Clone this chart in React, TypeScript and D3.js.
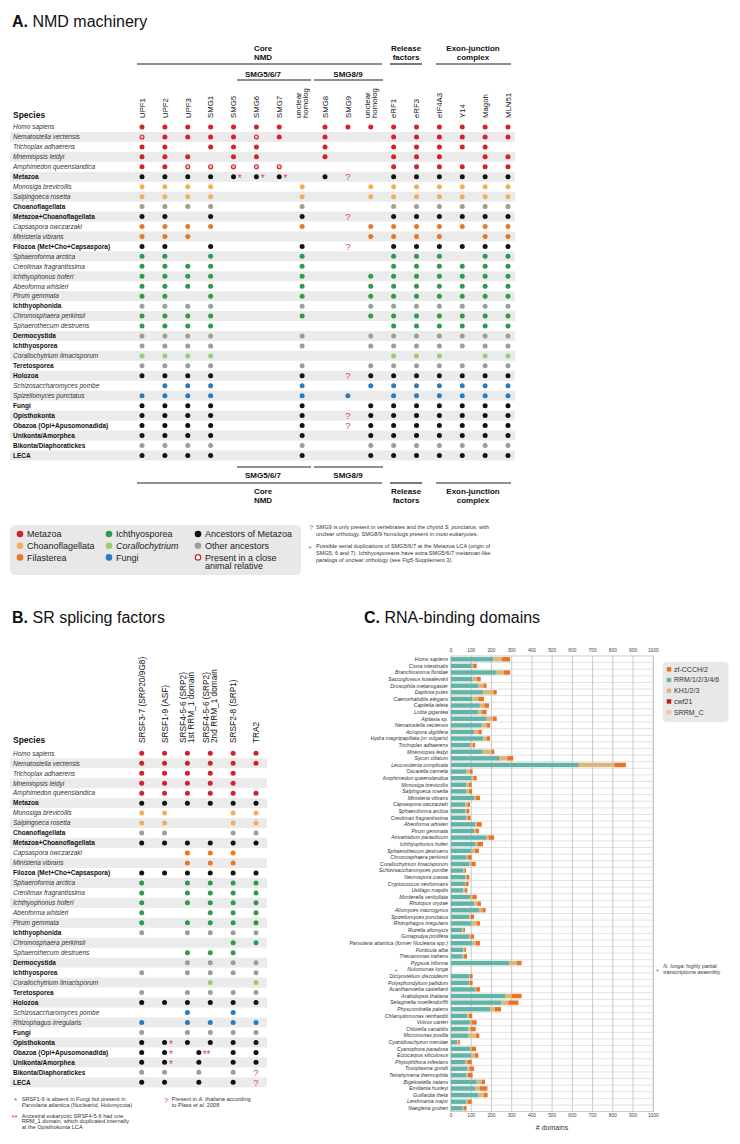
import React from "react";
import * as d3 from "d3";

const FONT = "'Liberation Sans', Arial, Helvetica, sans-serif";
const PAL: Record<string, string> = {
  r: "#d2232a", lo: "#f5ad5b", o: "#ee7623", g: "#2f9a4a", lg: "#9acd6c", b: "#2b7cbf", k: "#111111", gr: "#9d9d9d",
};
const MAG = "#d8388c";
const SHADE = "#ebebeb";

// ---------------- Panel A data ----------------
const A_COLUMNS = ["UPF1", "UPF2", "UPF3", "SMG1", "SMG5", "SMG6", "SMG7", "unclear|homolog", "SMG8", "SMG9", "unclear|homolog", "eRF1", "eRF3", "eIF4A3", "Y14", "Magoh", "MLN51"];
const A_SPECIES = [
  "Homo sapiens", "Nematostella vectensis", "Trichoplax adhaerens", "Mnemiopsis leidyi", "Amphimedon queenslandica",
  "Metazoa", "Monosiga brevicollis", "Salpingoeca rosetta", "Choanoflagellata", "Metazoa+Choanoflagellata",
  "Capsaspora owczarzaki", "Ministeria vibrans", "Filozoa (Met+Cho+Capsaspora)", "Sphaeroforma arctica", "Creolimax fragrantissima",
  "Ichthyophonus hoferi", "Abeoforma whisleri", "Pirum gemmata", "Ichthyophonida", "Chromosphaera perkinsii",
  "Sphaerothecum destruens", "Dermocystida", "Ichthyosporea", "Corallochytrium limacisporum", "Teretosporea",
  "Holozoa", "Schizosaccharomyces pombe", "Spizellomyces punctatus", "Fungi", "Opisthokonta",
  "Obazoa (Opi+Apusomonadida)", "Unikonta/Amorphea", "Bikonta/Diaphoratickes", "LECA",
];
const A_BOLD = [0,0,0,0,0,1,0,0,1,1,0,0,1,0,0,0,0,0,1,0,0,1,1,0,1,1,0,0,1,1,1,1,1,1];
const A_COLOR = ["r","r","r","r","r","k","lo","lo","gr","k","o","o","k","g","g","g","g","g","gr","g","g","gr","gr","lg","gr","k","b","b","k","k","k","k","gr","k"];
const A_CELLS = [
  "11111110111111111",
  "o1111o10100111111",
  "11011100100111110",
  "11101100100111011",
  "11ooooo0000111111",
  "1111***01?0111111",
  "11110001001111111",
  "11110001001111111",
  "11110001000111111",
  "110100010?0111111",
  "11110001001111111",
  "11100000001111011",
  "110100010?0111111",
  "11010001000111011",
  "11110001000111111",
  "11110001001111111",
  "11110001001111111",
  "11010001001111111",
  "11110001001111111",
  "11110001001111111",
  "11110000000111111",
  "11110001001111111",
  "11110001001111111",
  "11110000000111011",
  "11110001001111111",
  "111100010?1111111",
  "01110001001111111",
  "11110001010111111",
  "11110001001111111",
  "111100010?1111111",
  "111100010?1111111",
  "11110001001111111",
  "11110001001111111",
  "11110001001111111",
];

// ---------------- Panel B data ----------------
const B_COLUMNS = ["SRSF3-7 (SRP20/9G8)", "SRSF1-9 (ASF)", "SRSF4-5-6 (SRP2)|1st RRM_1 domain", "SRSF4-5-6 (SRP2)|2nd RRM_1 domain", "SRSF2-8 (SRP1)", "TRA2"];
const B_SPECIES = [
  "Homo sapiens", "Nematostella vectensis", "Trichoplax adhaerens", "Mnemiopsis leidyi", "Amphimedon queenslandica",
  "Metazoa", "Monosiga brevicollis", "Salpingoeca rosetta", "Choanoflagellata", "Metazoa+Choanoflagellata",
  "Capsaspora owczarzaki", "Ministeria vibrans", "Filozoa (Met+Cho+Capsaspora)", "Sphaeroforma arctica", "Creolimax fragrantissima",
  "Ichthyophonus hoferi", "Abeoforma whisleri", "Pirum gemmata", "Ichthyophonida", "Chromosphaera perkinsii",
  "Sphaerothecum destruens", "Dermocystida", "Ichthyosporea", "Corallochytrium limacisporum", "Teretosporea",
  "Holozoa", "Schizosaccharomyces pombe", "Rhizophagus irregularis", "Fungi", "Opisthokonta",
  "Obazoa (Opi+Apusomonadida)", "Unikonta/Amorphea", "Bikonta/Diaphoratickes", "LECA",
];
const B_BOLD = A_BOLD;
const B_COLOR = ["r","r","r","r","r","k","lo","lo","gr","k","o","o","k","g","g","g","g","g","gr","g","g","gr","gr","lg","gr","k","b","b","gr","k","k","k","gr","k"];
const B_CELLS = [
  "111111", "111111", "111110", "111110", "111111", "111111",
  "110011", "110011", "110011", "111111", "001110", "001110",
  "111111", "101111", "101111", "101111", "100111", "101111",
  "101111", "000011", "001110", "001111", "101111", "000101",
  "101111", "111111", "001010", "101111", "101111", "1*1111",
  "1*W011", "1*M011", "11M01?", "11M01?",
];

// ---------------- Panel C data ----------------
const C_SPECIES = [
  "Homo sapiens", "Ciona intestinalis", "Branchiostoma floridae", "Saccoglossus kowalevskii", "Drosophila melanogaster",
  "Daphnia pulex", "Caenorhabditis elegans", "Capitella teleta", "Lottia gigantea", "Aiptasia sp.",
  "Nematostella vectensis", "Acropora digitifera", "Hydra magnipapillata (or vulgaris)", "Trichoplax adhaerens", "Mnemiopsis leidyi",
  "Sycon ciliatum", "Leucosolenia complicata", "Oscarella carmela", "Amphimedon queenslandica", "Monosiga brevicollis",
  "Salpingoeca rosetta", "Ministeria vibrans", "Capsaspora owczarzaki", "Sphaeroforma arctica", "Creolimax fragrantissima",
  "Abeoforma whisleri", "Pirum gemmata", "Amoebidium parasiticum", "Ichthyophonus hoferi", "Sphaerothecum destruens",
  "Chromosphaera perkinsii", "Corallochytrium limacisporum", "Schizosaccharomyces pombe", "Neurospora crassa", "Cryptococcus neoformans",
  "Ustilago maydis", "Mortierella verticillata", "Rhizopus oryzae", "Allomyces macrogynus", "Spizellomyces punctatus",
  "Rhizophagus irregularis", "Rozella allomycis", "Gonapodya prolifera", "Parvularia atlantica (former Nuclearia spp.)", "Fonticula alba",
  "Thecamonas trahens", "Pygsuia biforma", "Nutomonas longa", "Dictyostelium discoideum", "Polysphondylium pallidum",
  "Acanthamoeba castellanii", "Arabidopsis thaliana", "Selaginella moellendorffii", "Physcomitrella patens", "Chlamydomonas reinhardtii",
  "Volvox carteri", "Chlorella variabilis", "Micromonas pusilla", "Cyanidioschyzon merolae", "Cyanophora paradoxa",
  "Ectocarpus siliculosus", "Phytophthora infestans", "Toxoplasma gondii", "Tetrahymena thermophila", "Bigelowiella natans",
  "Emiliania huxleyi", "Guillardia theta", "Leishmania major", "Naegleria gruberi",
];
const C_RRM = [209,102,226,107,135,160,107,143,135,176,152,114,160,94,157,232,626,77,102,77,77,114,72,72,77,119,115,173,122,102,77,91,61,72,69,61,94,114,138,91,102,56,89,107,61,58,288,0,91,91,119,267,250,193,81,94,86,86,31,94,99,72,81,77,127,119,135,77,58];
const C_CWF = [0,0,0,0,0,0,0,0,0,0,0,0,0,0,0,4,4,0,0,0,0,0,0,0,0,0,0,0,0,0,0,0,0,0,0,0,0,0,0,0,0,0,0,0,0,0,0,0,0,0,0,0,0,0,0,0,0,0,0,0,0,0,0,0,0,0,0,0,0];
const C_KH = [41,8,36,20,25,49,28,22,17,30,24,21,16,13,44,42,177,17,8,12,12,10,9,5,5,8,7,12,8,17,5,11,5,5,5,8,11,16,17,6,25,5,8,15,5,6,37,0,3,3,5,33,33,24,8,8,13,36,5,8,20,9,10,5,25,24,28,5,6];
const C_ZF = [42,17,30,20,16,17,28,23,24,20,17,17,17,12,13,30,58,13,17,13,15,19,13,14,15,25,16,28,28,19,20,20,8,14,13,12,22,18,16,17,16,8,17,21,8,15,24,0,13,13,19,49,50,30,16,25,23,18,8,22,16,21,23,25,16,37,18,20,13];
const C_SRRM = C_SPECIES.map(() => 0);
const C_KEYS = ["RRM", "cwf21", "KH", "zf", "SRRM"];
const C_COLORS: Record<string, string> = { RRM: "#62b5a6", cwf21: "#c4161c", KH: "#dab87b", zf: "#ea7326", SRRM: "#f6bfae" };
const C_LEGEND = [["zf-CCCH/2", "zf"], ["RRM/1/2/3/4/6", "RRM"], ["KH1/2/3", "KH"], ["cwf21", "cwf21"], ["SRRM_C", "SRRM"]];
const C_TICKS = [0, 100, 200, 300, 400, 500, 600, 700, 800, 900, 1000];

function Title({ x, y, letter, text }: { x: number; y: number; letter: string; text: string }) {
  return (
    <text x={x} y={y} fontSize={16} fontFamily={FONT} fill="#111">
      <tspan fontWeight="bold">{letter}</tspan>
      <tspan> {text}</tspan>
    </text>
  );
}

function Cell({ code, x, y, nextX, color }: { code: string; x: number; y: number; nextX: number; color: string }) {
  if (code === "0") return null;
  const r = 2.5;
  if (code === "1") return <circle cx={x} cy={y} r={r} fill={color} />;
  if (code === "o") return <circle cx={x} cy={y} r={2.0} fill="#f6c0b6" stroke={PAL.r} strokeWidth={1.1} />;
  if (code === "*")
    return (
      <g>
        <circle cx={x} cy={y} r={r} fill={color} />
        <text x={x + 6.3} y={y + 5.6} fontSize={10} fill={MAG} textAnchor="middle" fontFamily={FONT}>*</text>
      </g>
    );
  if (code === "?")
    return <text x={x} y={y + 3.4} fontSize={9.5} fill={MAG} textAnchor="middle" fontFamily={FONT}>?</text>;
  const mx = (x + nextX) / 2;
  if (code === "M") return <circle cx={mx} cy={y} r={r} fill={color} />;
  if (code === "W")
    return (
      <g>
        <circle cx={mx} cy={y} r={r} fill={color} />
        <text x={mx + 3.8} y={y + 5.6} fontSize={10} fill={MAG} fontFamily={FONT}>**</text>
      </g>
    );
  return null;
}

function RotLabel({ x, y, label, size }: { x: number; y: number; label: string; size: number }) {
  const parts = label.split("|");
  if (parts.length === 1)
    return (
      <text transform={`translate(${x + size * 0.36},${y}) rotate(-90)`} fontSize={size} fontFamily={FONT} fill="#111">{label}</text>
    );
  return (
    <g>
      <text transform={`translate(${x - 4 + size * 0.36},${y}) rotate(-90)`} fontSize={size} fontFamily={FONT} fill="#111">{parts[0]}</text>
      <text transform={`translate(${x + 3.5 + size * 0.36},${y}) rotate(-90)`} fontSize={size} fontFamily={FONT} fill="#111">{parts[1]}</text>
    </g>
  );
}

function Table({ species, bold, colors, cells, columns, x, y, shadeW, labelY, labelSize }: any) {
  return (
    <g fontFamily={FONT}>
      {species.map((s: string, i: number) => (
        <g key={s + i}>
          {i % 2 === 1 && <rect x={10} y={y(i) - 4.98} width={shadeW} height={9.96} fill={SHADE} />}
        </g>
      ))}
      <text x={13} y={labelY} fontSize={8.5} fontWeight="bold" fill="#111">Species</text>
      {columns.map((c: string, j: number) => (
        <RotLabel key={j} x={x(j)} y={labelY} label={c} size={labelSize} />
      ))}
      {species.map((s: string, i: number) => (
        <g key={"r" + i}>
          <text x={13} y={y(i) + 2.3} fontSize={6.5} fontStyle={bold[i] ? "normal" : "italic"} fontWeight={bold[i] ? "bold" : "normal"} fill={bold[i] ? "#111" : "#333"}>
            {s}
          </text>
          {cells[i].split("").map((code: string, j: number) => (
            <Cell key={j} code={code} x={x(j)} y={y(i)} nextX={x(j + 1)} color={PAL[colors[i]]} />
          ))}
        </g>
      ))}
    </g>
  );
}

function GroupHeader({ lines, cx, y, x0, x1, lineY }: any) {
  return (
    <g fontFamily={FONT}>
      {lines.map((l: string, k: number) => (
        <text key={k} x={cx} y={y + k * 8.5} fontSize={8} fontWeight="bold" textAnchor="middle" fill="#111">{l}</text>
      ))}
      <line x1={x0} x2={x1} y1={lineY} y2={lineY} stroke="#222" strokeWidth={1.2} />
    </g>
  );
}

export default function App() {
  // Panel A scales
  const ax = d3.scaleLinear().domain([0, 16]).range([142, 508]);
  const ay = d3.scaleLinear().domain([0, 33]).range([127, 455.4]);
  // Panel B scales
  const bx = d3.scaleLinear().domain([0, 5]).range([141.7, 256]);
  const by = d3.scaleLinear().domain([0, 33]).range([753.3, 1082.3]);
  // Panel C scales
  const cx = d3.scaleLinear().domain([0, 1000]).range([451, 653.3]);
  const cy = d3.scaleLinear().domain([0, C_SPECIES.length - 1]).range([659.3, 1108.3]);
  const rowH = (1108.3 - 659.3) / (C_SPECIES.length - 1);
  const cTop = cy(0) - rowH / 2;
  const cBot = cy(C_SPECIES.length - 1) + rowH / 2;
  const cData = C_SPECIES.map((s, i) => ({ s, RRM: C_RRM[i], cwf21: C_CWF[i], KH: C_KH[i], zf: C_ZF[i], SRRM: C_SRRM[i] }));
  const stacked = d3.stack<any>().keys(C_KEYS)(cData);

  const aHeaders = [
    { lines: ["Core", "NMD"], cx: 263, x0: 137, x1: 382 },
    { lines: ["Release", "factors"], cx: 406, x0: 390, x1: 422 },
    { lines: ["Exon-junction", "complex"], cx: 473, x0: 436, x1: 511 },
  ];
  const aSub = [
    { t: "SMG5/6/7", cx: 263, x0: 237, x1: 311 },
    { t: "SMG8/9", cx: 348, x0: 314, x1: 383 },
  ];

  const legA = [
    [["Metazoa", "r"], ["Choanoflagellata", "lo"], ["Filasterea", "o"]],
    [["Ichthyosporea", "g"], ["Corallochytrium", "lg"], ["Fungi", "b"]],
    [["Ancestors of Metazoa", "k"], ["Other ancestors", "gr"], ["Present in a close", "ring"]],
  ];

  return (
    <svg width={740} height={1144} style={{ position: "absolute", left: 0, top: 0, background: "#fff" }} fontFamily={FONT}>
      <rect x={0} y={0} width={740} height={1144} fill="#fff" />
      {/* ---------- Panel A ---------- */}
      <Title x={12} y={26.5} letter="A." text="NMD machinery" />
      {aHeaders.map((h, i) => (
        <GroupHeader key={i} lines={h.lines} cx={h.cx} y={51} x0={h.x0} x1={h.x1} lineY={64} />
      ))}
      {aSub.map((h, i) => (
        <GroupHeader key={"s" + i} lines={[h.t]} cx={h.cx} y={76.5} x0={h.x0} x1={h.x1} lineY={80} />
      ))}
      <Table species={A_SPECIES} bold={A_BOLD} colors={A_COLOR} cells={A_CELLS} columns={A_COLUMNS} x={ax} y={ay} shadeW={505} labelY={118} labelSize={7.8} />
      {/* bottom headers */}
      {aSub.map((h, i) => (
        <g key={"bs" + i}>
          <line x1={h.x0} x2={h.x1} y1={467} y2={467} stroke="#222" strokeWidth={1.2} />
          <text x={h.cx} y={478} fontSize={8} fontWeight="bold" textAnchor="middle" fill="#111">{h.t}</text>
        </g>
      ))}
      {aHeaders.map((h, i) => (
        <g key={"bh" + i}>
          <line x1={h.x0} x2={h.x1} y1={483} y2={483} stroke="#222" strokeWidth={1.2} />
          {h.lines.map((l, k) => (
            <text key={k} x={h.cx} y={494 + k * 9} fontSize={8} fontWeight="bold" textAnchor="middle" fill="#111">{l}</text>
          ))}
        </g>
      ))}
      {/* legend A */}
      <rect x={10} y={525} width={291} height={50} rx={5} fill="#e8e8e8" />
      {legA.map((col, ci) =>
        col.map(([t, c], ri) => {
          const lx = 20 + ci * 89;
          const ly = 534 + ri * 11.7;
          return (
            <g key={ci + "-" + ri}>
              {c === "ring" ? (
                <circle cx={lx} cy={ly} r={2.7} fill="#fff" stroke={PAL.r} strokeWidth={1.2} />
              ) : (
                <circle cx={lx} cy={ly} r={3.3} fill={PAL[c]} />
              )}
              <text x={lx + 7} y={ly + 3.2} fontSize={9} fill="#222" fontStyle={t === "Corallochytrium" ? "italic" : "normal"}>{t}</text>
            </g>
          );
        })
      )}
      <text x={205} y={568.5} fontSize={9} fill="#222">animal relative</text>
      {/* notes A */}
      <g fontSize={5.6} fill="#333">
        <text x={309} y={530} fill={MAG} fontSize={7.5}>?</text>
        <text x={316} y={529}>SMG9 is only present in vertebrates and the chytrid <tspan fontStyle="italic">S. punctatus</tspan>, with</text>
        <text x={316} y={536}>unclear orthology. SMG8/9 homologs present in most eukaryotes.</text>
        <text x={308.5} y={551} fill={MAG} fontSize={8}>*</text>
        <text x={316} y={548}>Possible serial duplications of SMG5/6/7 at the Metazoa LCA (origin of</text>
        <text x={316} y={555}>SMG5, 6 and 7). Ichthyosporeans have extra SMG5/6/7 metazoan-like</text>
        <text x={316} y={562}>paralogs of unclear orthology (see Fig5-Supplement 3).</text>
      </g>

      {/* ---------- Panel B ---------- */}
      <Title x={12} y={622.5} letter="B." text="SR splicing factors" />
      <Table species={B_SPECIES} bold={B_BOLD} colors={B_COLOR} cells={B_CELLS} columns={B_COLUMNS} x={bx} y={by} shadeW={257} labelY={743} labelSize={8.3} />
      <g fontSize={5.6} fill="#333">
        <text x={14} y={1103} fill={MAG} fontSize={8}>*</text>
        <text x={21.7} y={1101}>SRSF1-9 is absent in Fungi but present in</text>
        <text x={21.7} y={1106.5}><tspan fontStyle="italic">Parvularia atlantica</tspan> (Nucleariid, Holomycota)</text>
        <text x={164} y={1103} fill={MAG} fontSize={7.5}>?</text>
        <text x={171.7} y={1101}>Present in <tspan fontStyle="italic">A. thaliana</tspan> according</text>
        <text x={171.7} y={1106.5}>to Plass <tspan fontStyle="italic">et al.</tspan> 2008</text>
        <text x={11.5} y={1120} fill={MAG} fontSize={8}>**</text>
        <text x={21.7} y={1117.5}>Ancestral eukaryotic SRSF4-5-6 had one</text>
        <text x={21.7} y={1123}>RRM_1 domain, which duplicated internally</text>
        <text x={21.7} y={1128.5}>at the Opisthokonta LCA</text>
      </g>

      {/* ---------- Panel C ---------- */}
      <Title x={364} y={623} letter="C." text="RNA-binding domains" />
      <rect x={cx(0)} y={cTop} width={cx(1000) - cx(0)} height={cBot - cTop} fill="#fff" stroke="#bdbdbd" strokeWidth={0.8} />
      {C_SPECIES.map((s, i) => (
        <line key={"h" + i} x1={cx(0)} x2={cx(1000)} y1={cy(i) + rowH / 2} y2={cy(i) + rowH / 2} stroke="#cfcfcf" strokeWidth={0.6} />
      ))}
      {C_TICKS.map((t) => (
        <g key={"t" + t}>
          <line x1={cx(t)} x2={cx(t)} y1={cTop} y2={cBot} stroke="#bdbdbd" strokeWidth={0.8} />
          <text x={cx(t)} y={652} fontSize={4.8} textAnchor="middle" fill="#444">{t}</text>
          <text x={cx(t)} y={1117} fontSize={4.8} textAnchor="middle" fill="#444">{t}</text>
        </g>
      ))}
      {stacked.map((layer) => (
        <g key={layer.key} fill={C_COLORS[layer.key]}>
          {layer.map((d, i) =>
            d[1] - d[0] > 0 ? (
              <rect key={i} x={cx(d[0])} y={cy(i) - 2.2} width={cx(d[1]) - cx(d[0])} height={4.4} />
            ) : null
          )}
        </g>
      ))}
      {C_SPECIES.map((s, i) => (
        <text key={"c" + i} x={448} y={cy(i) + 1.8} fontSize={5.2} fontStyle="italic" textAnchor="end" fill="#333">{s}</text>
      ))}
      <text x={396} y={cy(47) + 4.3} fontSize={7} fill={MAG} textAnchor="middle">*</text>
      <text x={552} y={1130} fontSize={7} textAnchor="middle" fill="#333"># domains</text>
      {/* legend C */}
      <rect x={663} y={662} width={65.5} height={60} rx={4} fill="#e8e8e8" />
      {C_LEGEND.map(([t, k], i) => (
        <g key={k}>
          <rect x={666.8} y={669.3 + i * 10.7 - 2.2} width={4.4} height={4.4} fill={C_COLORS[k]} />
          <text x={674} y={669.3 + i * 10.7 + 2.4} fontSize={7} fill="#333">{t}</text>
        </g>
      ))}
      <text x={657.7} y={cy(47) + 4.3} fontSize={7} fill={MAG} textAnchor="middle">*</text>
      <g fontSize={5.4} fill="#333">
        <text x={663.3} y={968}><tspan fontStyle="italic">N. longa</tspan>: highly partial</text>
        <text x={663.3} y={974}>transcriptome assembly</text>
      </g>
    </svg>
  );
}
